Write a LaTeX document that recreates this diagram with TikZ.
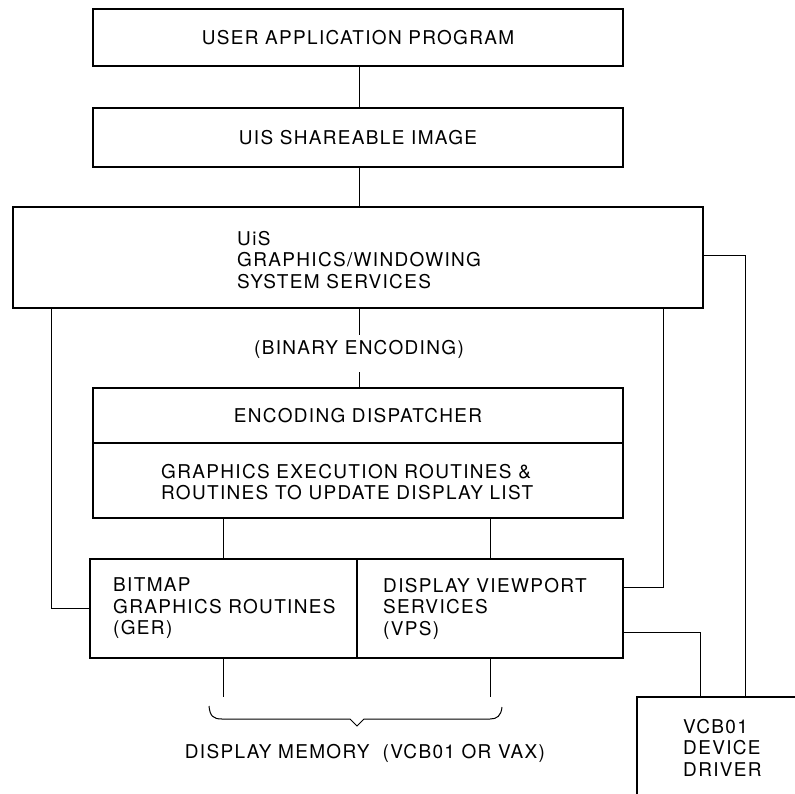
\documentclass[tikz,border=0pt]{standalone}
\usepackage{fontspec}
\setmainfont{TeX Gyre Heros}[LetterSpace=7]
\usetikzlibrary{calc}
\begin{document}
\begin{tikzpicture}[x=1pt,y=-1pt,
  font=\fontsize{19}{21.5}\selectfont,
  box/.style={draw, line width=2.2pt, inner sep=0pt, rectangle},
  wire/.style={draw, line width=1pt},
  lbl/.style={inner sep=0pt, align=left, anchor=west}]
\useasboundingbox (0,0) rectangle (795,793);
\clip (0,0) rectangle (795,793);

% boxes
\node[box, minimum width=530pt, minimum height=57pt] (uap) at (358,37.5) {USER APPLICATION PROGRAM};
\node[box, minimum width=530pt, minimum height=59pt] (uis) at (358,137.5) {UIS SHAREABLE IMAGE};
\node[box, minimum width=690pt, minimum height=101pt] (gui) at (358,257.5) {};
\node[box, minimum width=530pt, minimum height=55pt] (enc) at (358,415.5) {ENCODING DISPATCHER};
\node[box, minimum width=530pt, minimum height=75pt] (gex) at (358,480.5) {};
\node[box, minimum width=267pt, minimum height=99pt] (ger) at (223.5,608.5) {};
\node[box, minimum width=266pt, minimum height=99pt] (vps) at (490,608.5) {};
\node[box, minimum width=263pt, minimum height=203pt] (vcb) at (768.5,798.5) {};

% texts
\node[lbl] (guit) at (237,260) {UiS\\GRAPHICS/WINDOWING\\SYSTEM SERVICES};
\node[lbl] (gext) at (161,482) {GRAPHICS EXECUTION ROUTINES \&\\ROUTINES TO UPDATE DISPLAY LIST};
\node[lbl] (gert) at (113,608.5) {BITMAP\\GRAPHICS ROUTINES\\(GER)};
\node[lbl] (vpst) at (383,608.5) {DISPLAY VIEWPORT\\SERVICES\\(VPS)};
\node[lbl] (vcbt) at (683,747.5) {VCB01\\DEVICE\\DRIVER};
\node[inner sep=0pt] (bin) at (359,349) {(BINARY ENCODING)};
\node[inner sep=0pt] (mem) at (365,753) {DISPLAY MEMORY\ \ (VCB01 OR VAX)};

% connectors
\draw[wire] (uap.south -| 359,0) -- (uis.north -| 359,0);
\draw[wire] (uis.south -| 359,0) -- (gui.north -| 359,0);
\coordinate (b1) at (359,335);
\coordinate (b2) at (359,372);
\draw[wire] (gui.south -| b1) -- (b1);
\draw[wire] (b2) -- (enc.north -| b2);
\draw[wire] (gex.south -| ger) -- (ger.north);
\draw[wire] (gex.south -| vps) -- (vps.north);

\coordinate (lx) at (51,0);
\draw[wire] (gui.south -| lx) |- (ger.west);
\coordinate (rx) at (663,587);
\draw[wire] (gui.south -| rx) |- (vps.east |- rx);
\coordinate (gy) at (745,255);
\draw[wire] (gui.east |- gy) -| (vcb.north -| gy);
\coordinate (vy) at (700,632);
\draw[wire] (vps.east |- vy) -| (vcb.north -| vy);

\coordinate (m1) at (223.5,697);
\coordinate (m2) at (490,697);
\draw[wire] (ger.south) -- (m1);
\draw[wire] (vps.south) -- (m2);

% brace
\draw[wire] (209,706) .. controls (210,716) and (213,719) .. (222,719) -- (350,719) -- (357,726) -- (364,719) -- (490,719) .. controls (497,719) and (501,716) .. (502,707);
\end{tikzpicture}
\end{document}
